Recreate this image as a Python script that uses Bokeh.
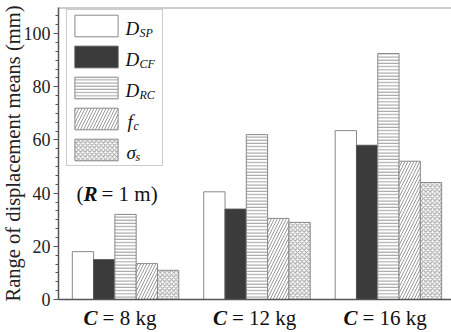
from bokeh.plotting import figure
from bokeh.models import (ColumnDataSource, Range1d, LinearAxis, Title,
                          SingleIntervalTicker, Label, Legend, LegendItem, Span)
from bokeh.transform import dodge
from bokeh.embed import file_html
from bokeh.resources import INLINE

# ---------------- data ----------------
categories = ["8 kg", "12 kg", "16 kg"]
D_SP = [18.0, 40.5, 63.5]
D_CF = [15.0, 34.0, 58.0]
D_RC = [32.0, 62.0, 92.5]
f_c = [13.5, 30.5, 52.0]
sigma_s = [11.0, 29.0, 44.0]
legend_main = ["D", "D", "D", "f", "σ"]
legend_sub = ["SP", "CF", "RC", "c", "s"]
y_tick_step = 20
y_label = "Range of displacement means (mm)"
note_var = "R"
note_rest = "= 1 m)"

series = [D_SP, D_CF, D_RC, f_c, sigma_s]

# ---------------- styles ----------------
SERIF = "Liberation Serif"
styles = [
    dict(fill_color="white", line_color="#888888"),
    dict(fill_color="#3b3b3b", line_color="#555555"),
    dict(fill_color="white", line_color="#888888", hatch_pattern="horizontal_line",
         hatch_color="#9a9a9a", hatch_scale=3.2, hatch_weight=1),
    dict(fill_color="white", line_color="#888888", hatch_pattern="right_diagonal_line",
         hatch_color="#9a9a9a", hatch_scale=6, hatch_weight=1),
    dict(fill_color="white", line_color="#888888", hatch_pattern="diagonal_cross",
         hatch_color="#9a9a9a", hatch_scale=4.5, hatch_weight=1),
]
bar_w = 0.162
W, H = 451, 332
FL, FT = 58, 7          # frame left / top (px)
Y_TOP = 109.8
MID = 0.338             # baseline offset below a "middle" anchor, in em


def anchor_sy(baseline_py, size):
    """frame-relative screen y for a middle-anchored text with given page baseline"""
    return H - (baseline_py - MID * size)


p = figure(width=W, height=H, x_range=Range1d(-0.51, 2.48), y_range=Range1d(-12.4, Y_TOP),
           output_backend="svg", toolbar_location=None,
           x_axis_type=None, y_axis_type=None,
           min_border_left=FL, min_border_right=0, min_border_top=FT, min_border_bottom=0)
p.outline_line_color = None
p.grid.visible = False
p.background_fill_color = "white"
p.border_fill_color = "white"

yaxis = LinearAxis(ticker=SingleIntervalTicker(interval=y_tick_step, num_minor_ticks=6))
yaxis.bounds = (0, Y_TOP)
yaxis.axis_line_color = "#555555"
yaxis.axis_line_width = 1.5
yaxis.major_tick_line_color = "#555555"
yaxis.minor_tick_line_color = "#555555"
yaxis.major_tick_out = 5
yaxis.major_tick_in = 0
yaxis.minor_tick_out = 3
yaxis.minor_tick_in = 0
yaxis.major_label_standoff = 3
yaxis.major_label_text_font = SERIF
yaxis.major_label_text_font_size = "18px"
yaxis.major_label_text_color = "#222222"
p.add_layout(yaxis, "left")

p.add_layout(Title(text=y_label, align="left", offset=31, standoff=-7,
                   text_font=SERIF, text_font_size="20.5px", text_font_style="normal",
                   text_color="#222222"), "left")

# baseline (x axis line) and top frame line
p.add_layout(Span(location=0, dimension="width", line_color="#555555", line_width=1.5))
p.add_layout(Span(location=Y_TOP, dimension="width", line_color="#9a9a9a", line_width=2))

src = ColumnDataSource(dict(x=list(range(len(categories))),
                            s0=D_SP, s1=D_CF, s2=D_RC, s3=f_c, s4=sigma_s))
renderers = []
for j in range(len(series)):
    r = p.vbar(x=dodge("x", (j - 2) * bar_w, range=p.x_range), top="s%d" % j,
               width=bar_w, bottom=0, source=src, line_width=1, **styles[j])
    renderers.append(r)

legend = Legend(items=[LegendItem(label=" ", renderers=[r]) for r in renderers],
                location=(8, H - 166), orientation="vertical",
                glyph_width=54, glyph_height=27, label_height=27, label_width=32,
                label_standoff=5, spacing=4, padding=2, margin=0,
                border_line_color="#9a9a9a", border_line_width=1.5,
                background_fill_color="white", background_fill_alpha=0.0)
p.add_layout(legend, "center")

# legend texts with subscripts (frame-relative screen units)
item_centers = [25.5, 56.5, 87.5, 118.5, 149.5]   # page y of legend rows
main_x = [125, 125, 125, 127, 126]
sub_x = [139, 139, 139, 133, 135]
for k in range(5):
    cy = item_centers[k]
    p.add_layout(Label(x=main_x[k] - FL, y=anchor_sy(cy + 8.5, 19), x_units="screen", y_units="screen",
                       text=legend_main[k], text_font=SERIF, text_font_style="italic",
                       text_font_size="19px", text_baseline="middle", text_color="#111111"))
    p.add_layout(Label(x=sub_x[k] - FL, y=anchor_sy(cy + 11.5, 12), x_units="screen", y_units="screen",
                       text=legend_sub[k], text_font=SERIF, text_font_style="italic",
                       text_font_size="12px", text_baseline="middle", text_color="#111111"))

# category labels
c_offsets = [-42, -44, -45]
for i, cat in enumerate(categories):
    p.add_layout(Label(x=i, y=anchor_sy(325, 21), x_units="data", y_units="screen", x_offset=c_offsets[i],
                       text="C", text_font=SERIF, text_font_style="bold italic",
                       text_font_size="21px", text_baseline="middle", text_color="#111111"))
    p.add_layout(Label(x=i, y=anchor_sy(325, 21), x_units="data", y_units="screen", x_offset=c_offsets[i] + 19,
                       text="= " + cat, text_font=SERIF,
                       text_font_size="21px", text_baseline="middle", text_color="#111111"))

# (R = 1 m) note
for txt, px, style in [("(", 76, "normal"), (note_var, 83, "bold italic"), (note_rest, 101, "normal")]:
    p.add_layout(Label(x=px - FL, y=anchor_sy(201, 21), x_units="screen", y_units="screen", text=txt,
                       text_font=SERIF, text_font_style=style, text_font_size="21px",
                       text_baseline="middle", text_color="#111111"))

open("out.html", "w").write(file_html(p, INLINE))
